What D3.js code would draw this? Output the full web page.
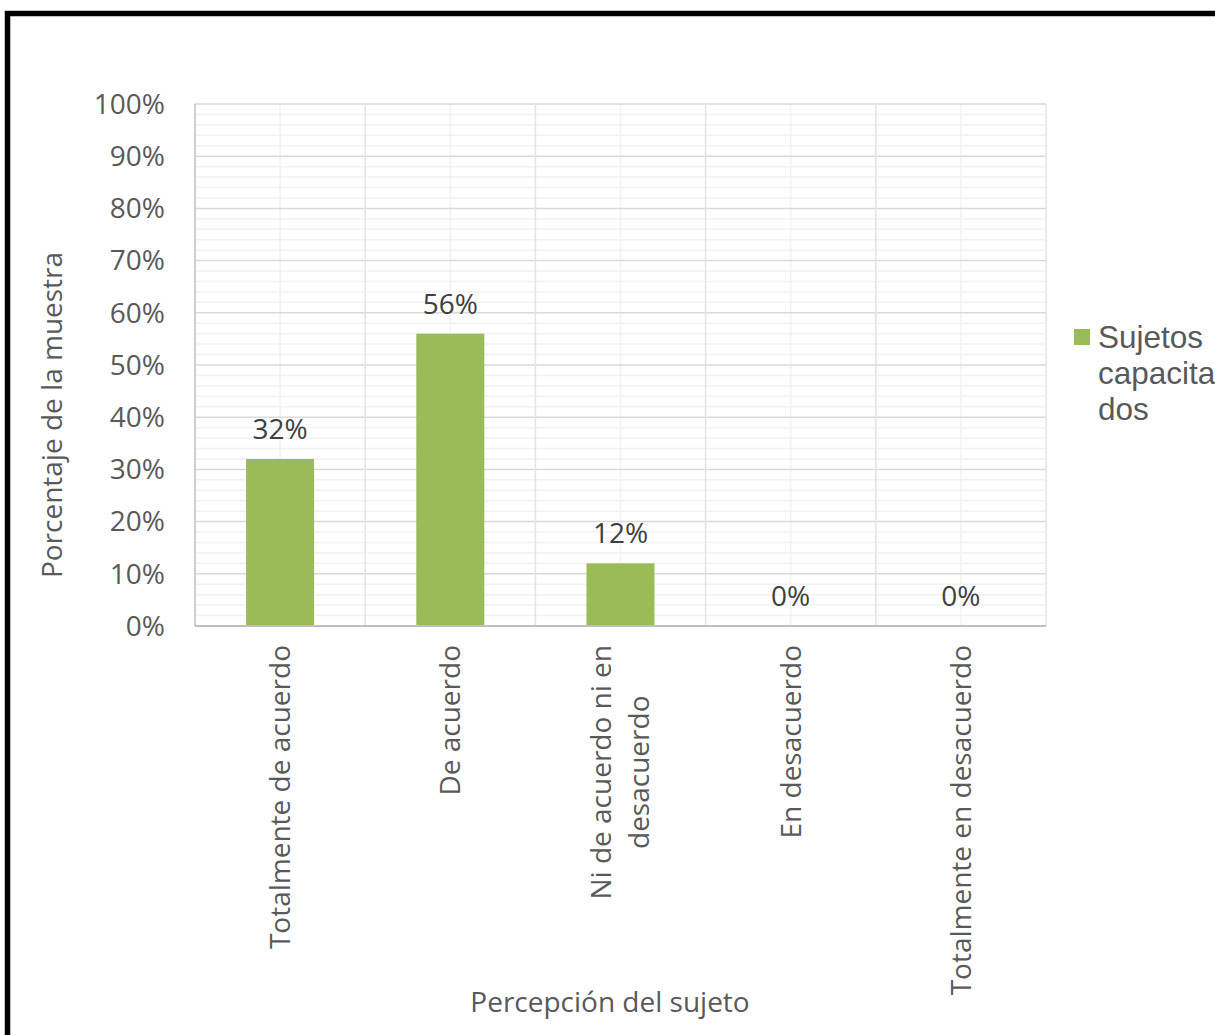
<!DOCTYPE html>
<html><head><meta charset="utf-8">
<script src="https://cdn.jsdelivr.net/npm/d3@7/dist/d3.min.js"></script>
<style>
html,body{margin:0;padding:0;background:#fff;overflow:hidden;}
svg{display:block;}
</style></head>
<body>
<script>
const categories = [["Totalmente de acuerdo"], ["De acuerdo"], ["Ni de acuerdo ni en", "desacuerdo"], ["En desacuerdo"], ["Totalmente en desacuerdo"]];
const values = [32, 56, 12, 0, 0];
const seriesName = ["Sujetos", "capacita", "dos"];
const yTicks = [0, 10, 20, 30, 40, 50, 60, 70, 80, 90, 100];
const yTitle = "Porcentaje de la muestra";
const xTitle = "Percepción del sujeto";

const W = 1215, H = 1035;
const svg = d3.select("body").append("svg").attr("width", W).attr("height", H);
const font = "'Open Sans', sans-serif";
const fs = 28;

svg.append("rect").attr("x", 7.5).attr("y", 13.5).attr("width", W + 20).attr("height", H + 20)
  .attr("fill", "none").attr("stroke", "#000").attr("stroke-width", 5.5);

const pL = 195, pR = 1046, pT = 104, pB = 626;
const x = d3.scaleBand().domain(d3.range(categories.length)).range([pL, pR]).paddingInner(0).paddingOuter(0);
const y = d3.scaleLinear().domain([0, 100]).range([pB, pT]);

const g = svg.append("g");
const minor = d3.range(0, 101, 2).filter(v => v % 10 !== 0);
g.selectAll(".hmin").data(minor).enter().append("line")
  .attr("x1", pL).attr("x2", pR).attr("y1", d => y(d)).attr("y2", d => y(d))
  .attr("stroke", "#f2f2f2").attr("stroke-width", 1.5);
g.selectAll(".vmin").data(d3.range(categories.length)).enter().append("line")
  .attr("x1", d => x(d) + x.bandwidth() / 2).attr("x2", d => x(d) + x.bandwidth() / 2)
  .attr("y1", pT).attr("y2", pB).attr("stroke", "#f2f2f2").attr("stroke-width", 1.5);
g.selectAll(".hmaj").data(yTicks.slice(1)).enter().append("line")
  .attr("x1", pL).attr("x2", pR).attr("y1", d => y(d)).attr("y2", d => y(d))
  .attr("stroke", "#d9d9d9").attr("stroke-width", 1.5);
g.selectAll(".vmaj").data(d3.range(1, categories.length + 1)).enter().append("line")
  .attr("x1", d => pL + d * x.bandwidth()).attr("x2", d => pL + d * x.bandwidth())
  .attr("y1", pT).attr("y2", pB).attr("stroke", "#e6e0ec").attr("stroke-width", 1.5);

const barW = 68;
g.selectAll(".bar").data(values).enter().append("rect")
  .attr("x", (d, i) => x(i) + x.bandwidth() / 2 - barW / 2)
  .attr("y", d => y(d)).attr("width", barW).attr("height", d => pB - y(d))
  .attr("fill", "#9bbb59");

g.append("line").attr("x1", pL).attr("x2", pL).attr("y1", pT).attr("y2", pB)
  .attr("stroke", "#bfbfbf").attr("stroke-width", 1.5);
g.append("line").attr("x1", pL).attr("x2", pR).attr("y1", pB).attr("y2", pB)
  .attr("stroke", "#bfbfbf").attr("stroke-width", 2);

g.selectAll(".yt").data(yTicks).enter().append("text")
  .attr("x", 165).attr("y", d => y(d)).attr("dy", "0.35em").attr("text-anchor", "end")
  .attr("font-family", font).attr("font-size", fs).attr("fill", "#595959")
  .text(d => d + "%");

g.selectAll(".dl").data(values).enter().append("text")
  .attr("x", (d, i) => x(i) + x.bandwidth() / 2).attr("y", d => y(d) - 20)
  .attr("text-anchor", "middle").attr("font-family", font).attr("font-size", fs).attr("fill", "#404040")
  .text(d => d + "%");

const lineH = 38;
categories.forEach((lines, i) => {
  const cx = x(i) + x.bandwidth() / 2;
  const n = lines.length;
  const t = g.append("text").attr("transform", `translate(${cx},645) rotate(-90)`)
    .attr("font-family", font).attr("font-size", fs).attr("fill", "#595959");
  lines.forEach((ln, k) => {
    t.append("tspan").attr("x", 0).attr("y", (k - (n - 1) / 2) * lineH).attr("dy", "0.35em").text(ln);
  });
  const tsp = t.selectAll("tspan").nodes();
  const maxW = d3.max(tsp, s => s.getComputedTextLength());
  tsp.forEach(s => { s.setAttribute("text-anchor", "middle"); s.setAttribute("x", -maxW / 2); });
});

svg.append("text").attr("transform", "translate(52,415) rotate(-90)").attr("dy", "0.35em")
  .attr("text-anchor", "middle").attr("font-family", font).attr("font-size", fs).attr("fill", "#595959")
  .text(yTitle);
svg.append("text").attr("x", 610).attr("y", 1002).attr("dy", "0.35em")
  .attr("text-anchor", "middle").attr("font-family", font).attr("font-size", fs).attr("fill", "#595959")
  .text(xTitle);

svg.append("rect").attr("x", 1074).attr("y", 329).attr("width", 16).attr("height", 16).attr("fill", "#9bbb59");
const lt = svg.append("text").attr("font-family", "'Liberation Sans', Arial, sans-serif").attr("font-size", 31.5).attr("fill", "#595959");
seriesName.forEach((s, k) => {
  lt.append("tspan").attr("x", 1098).attr("y", 337 + k * 36).attr("dy", "0.35em").text(s);
});
</script>
</body></html>
